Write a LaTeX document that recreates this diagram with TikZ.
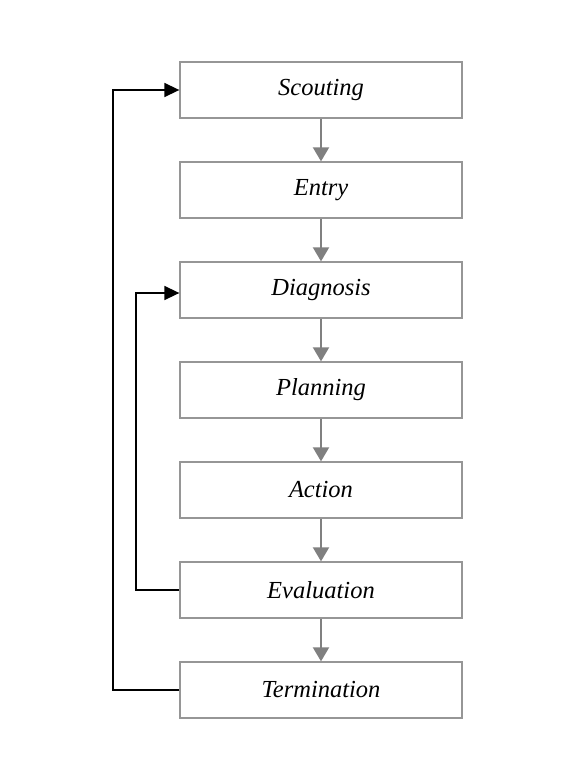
\documentclass[tikz,border=0pt]{standalone}
\usepackage{fontspec}
\setmainfont{Liberation Serif}
\usetikzlibrary{arrows.meta}
\begin{document}
\begin{tikzpicture}[x=1pt,y=-1pt,
  stage/.style={draw={rgb,255:red,150;green,150;blue,150}, line width=1.3pt,
    minimum width=282pt, minimum height=56pt, inner sep=0pt,
    font=\fontsize{24.5}{26}\selectfont\itshape},
  flow/.style={draw={rgb,255:red,128;green,128;blue,128}, line width=2pt,
    -{Triangle[length=14pt,width=16pt]}},
  loop/.style={draw=black, line width=1.6pt,
    -{Triangle[length=15pt,width=14pt]}}]
\useasboundingbox (0,0) rectangle (561,776);
\node[stage] (s1) at (321,90) {Scouting};
\node[stage] (s2) at (321,190) {Entry};
\node[stage] (s3) at (321,290) {Diagnosis};
\node[stage] (s4) at (321,390) {Planning};
\node[stage] (s5) at (321,490) {Action};
\node[stage] (s6) at (321,590) {Evaluation};
\node[stage] (s7) at (321,690) {Termination};
\foreach \a/\b in {s1/s2,s2/s3,s3/s4,s4/s5,s5/s6,s6/s7}
  \draw[flow] (\a.south) -- (\b.north);
\draw[loop] (s7.west) -- (113,690) |- (s1.west);
\draw[loop] (s6.west) -- (136,590) |- ([yshift=-3pt]s3.west);
\end{tikzpicture}
\end{document}
